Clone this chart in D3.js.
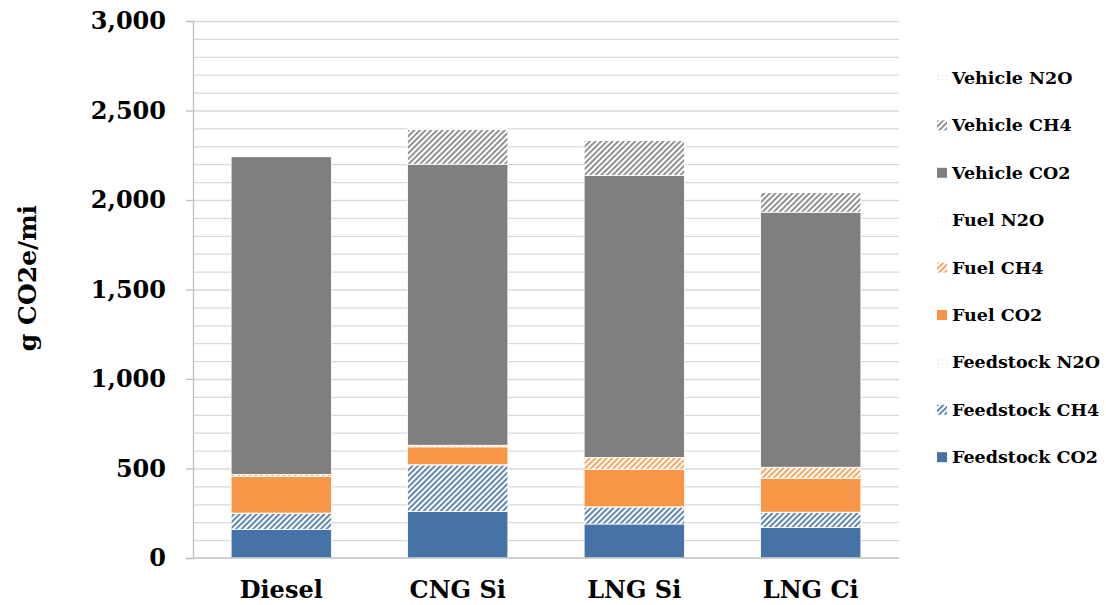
<!DOCTYPE html>
<html>
<head>
<meta charset="utf-8">
<script src="https://cdn.jsdelivr.net/npm/d3@7"></script>
<style>
  body { margin: 0; background: #fff; }
  svg text { font-family: Georgia, "DejaVu Serif", serif; font-weight: bold; fill: #000; }
</style>
</head>
<body>
<svg id="chart"></svg>
<script>
// values (g CO2e/mi)
var categories = ["Diesel", "CNG Si", "LNG Si", "LNG Ci"]
var feedstockCO2 = [160, 260, 190, 170]
var feedstockCH4 = [90, 260, 95, 85]
var feedstockN2O = [1, 1, 1, 1]
var fuelCO2 = [205, 100, 210, 190]
var fuelCH4 = [10, 8, 65, 60]
var fuelN2O = [1, 1, 1, 1]
var vehicleCO2 = [1775, 1570, 1575, 1425]
var vehicleCH4 = [5, 195, 195, 110]
var vehicleN2O = [3, 3, 3, 3]
var yTicks = [0, 500, 1000, 1500, 2000, 2500, 3000]

var seriesNames = ["Feedstock CO2", "Feedstock CH4", "Feedstock N2O",
                   "Fuel CO2", "Fuel CH4", "Fuel N2O",
                   "Vehicle CO2", "Vehicle CH4", "Vehicle N2O"]
var seriesValues = [feedstockCO2, feedstockCH4, feedstockN2O,
                    fuelCO2, fuelCH4, fuelN2O,
                    vehicleCO2, vehicleCH4, vehicleN2O]

var rows = categories.map(function (c, i) {
    var r = {category: c}
    seriesNames.forEach(function (s, j) { r[s] = seriesValues[j][i] })
    return r
})

var dimensions = {
    width: 1106,
    height: 605,
    margin: {top: 21, bottom: 47, left: 193, right: 207}
}

var blue = "#4672a8", orange = "#f79646", gray = "#7f7f7f"
var kind = {
    "Feedstock CO2": {color: blue, type: "solid"},
    "Feedstock CH4": {color: blue, type: "stripe"},
    "Feedstock N2O": {color: blue, type: "dots"},
    "Fuel CO2": {color: orange, type: "solid"},
    "Fuel CH4": {color: orange, type: "stripe"},
    "Fuel N2O": {color: orange, type: "dots"},
    "Vehicle CO2": {color: gray, type: "solid"},
    "Vehicle CH4": {color: gray, type: "stripe"},
    "Vehicle N2O": {color: gray, type: "dots"}
}

var svg = d3.select("#chart")
    .attr("width", dimensions.width)
    .attr("height", dimensions.height)

// patterns
var defs = svg.append("defs")
seriesNames.forEach(function (s, i) {
    var k = kind[s]
    if (k.type == "solid") return
    var p = defs.append("pattern")
        .attr("id", "pat" + i)
        .attr("patternUnits", "userSpaceOnUse")
    if (k.type == "stripe") {
        p.attr("width", 4).attr("height", 4)
         .attr("patternTransform", "rotate(45)")
        p.append("rect").attr("width", 4).attr("height", 4).attr("fill", "#fff")
        p.append("rect").attr("width", 2).attr("height", 4).attr("fill", k.color).attr("opacity", 0.85)
    } else {
        p.attr("width", 4).attr("height", 4)
        p.append("rect").attr("width", 4).attr("height", 4).attr("fill", "#fff")
        p.append("rect").attr("x", 1).attr("y", 1).attr("width", 1).attr("height", 1)
         .attr("fill", k.color).attr("opacity", 0.35)
    }
})
function fillFor(s) {
    var i = seriesNames.indexOf(s)
    return kind[s].type == "solid" ? kind[s].color : "url(#pat" + i + ")"
}

var xScale = d3.scaleBand()
    .domain(categories)
    .range([dimensions.margin.left, dimensions.width - dimensions.margin.right])
    .paddingInner(0.432)
    .paddingOuter(0.216)

var yScale = d3.scaleLinear()
    .domain([0, 3000])
    .range([dimensions.height - dimensions.margin.bottom, dimensions.margin.top])

// gridlines every 100
var grid = svg.append("g")
    .attr("transform", `translate(${dimensions.margin.left},0)`)
    .call(d3.axisLeft(yScale).tickValues(d3.range(100, 3001, 100))
        .tickSize(-(dimensions.width - dimensions.margin.left - dimensions.margin.right))
        .tickFormat(""))
grid.select(".domain").remove()
grid.selectAll("line").attr("stroke", "#d9d9d9").attr("stroke-width", 1.3)

// stacked bars
var stacked = d3.stack().keys(seriesNames)(rows)
svg.append("g")
    .selectAll("g")
    .data(stacked)
    .enter()
    .append("g")
    .attr("fill", d => fillFor(d.key))
    .selectAll("rect")
    .data(d => d)
    .enter()
    .append("rect")
    .attr("x", d => xScale(d.data.category))
    .attr("y", d => yScale(d[1]))
    .attr("width", xScale.bandwidth())
    .attr("height", d => yScale(d[0]) - yScale(d[1]))
    .attr("stroke", "#fff")
    .attr("stroke-width", 0.8)

// y axis
var yAxis = svg.append("g")
    .attr("transform", `translate(${dimensions.margin.left},0)`)
    .call(d3.axisLeft(yScale).tickValues(yTicks).tickSize(7).tickPadding(20)
        .tickFormat(d3.format(",")))
yAxis.select(".domain").attr("stroke", "#bfbfbf").attr("stroke-width", 1.3)
yAxis.selectAll("line").attr("stroke", "#bfbfbf").attr("stroke-width", 1.3)
yAxis.selectAll("text").style("font-size", "24px")
    .style("font-family", 'Georgia, "DejaVu Serif", serif').style("font-weight", "bold")

// bottom axis line
svg.append("line")
    .attr("x1", dimensions.margin.left).attr("x2", dimensions.width - dimensions.margin.right)
    .attr("y1", yScale(0)).attr("y2", yScale(0))
    .attr("stroke", "#bfbfbf").attr("stroke-width", 1.3)

// category labels
svg.append("g")
    .selectAll("text")
    .data(categories)
    .enter()
    .append("text")
    .attr("x", d => xScale(d) + xScale.bandwidth() / 2)
    .attr("y", 598)
    .attr("text-anchor", "middle")
    .style("font-size", "24px")
    .text(d => d)

// y title
svg.append("text")
    .attr("transform", "translate(36,278) rotate(-90)")
    .attr("text-anchor", "middle")
    .style("font-size", "25px")
    .text("g CO2e/mi")

// legend
var legendNames = seriesNames.slice().reverse()
var legend = svg.append("g")
    .selectAll("g")
    .data(legendNames)
    .enter()
    .append("g")
    .attr("transform", (d, i) => `translate(937,${78 + i * 47.4})`)
legend.append("rect")
    .attr("x", 0).attr("y", -5)
    .attr("width", 10).attr("height", 10)
    .attr("fill", d => fillFor(d))
legend.append("text")
    .attr("x", 15).attr("y", 6)
    .style("font-size", "17.5px")
    .text(d => d)
</script>
</body>
</html>
